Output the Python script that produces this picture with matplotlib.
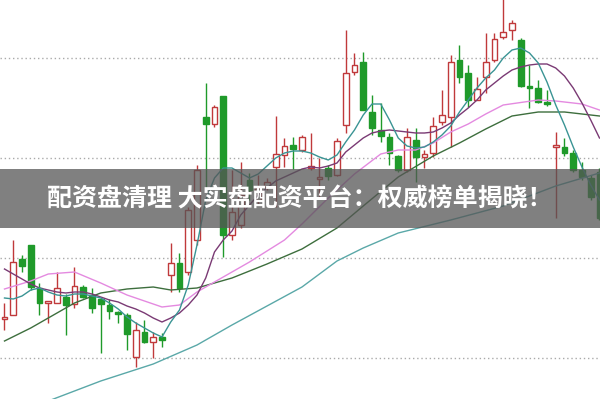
import numpy as np
import matplotlib
matplotlib.use("Agg")
import matplotlib.pyplot as plt
from matplotlib.patches import Rectangle

plt.rcParams['font.family'] = ['Noto Sans CJK SC', 'DejaVu Sans']

# candle data
opens = [10.39, 10.43, 10.99, 11.13, 10.70, 10.55, 10.55, 10.61, 10.54, 10.71,
         10.63, 10.59, 10.53, 10.46, 10.43, 10.01, 10.26, 10.16, 10.21, 10.83,
         10.95, 10.86, 11.18, 12.41, 12.34, 12.62, 11.23, 11.33, 11.78, 11.58,
         11.71, 11.91, 12.03, 12.13, 12.08, 11.90, 11.79, 11.90, 11.83, 12.33,
         12.86, 12.96, 12.46, 12.28, 12.21, 12.02, 11.88, 12.18, 12.01, 12.05,
         12.36, 12.41, 12.98, 12.85, 12.58, 12.81, 12.98, 13.21, 13.28, 13.18,
         12.71, 12.70, 12.55, 12.11, 12.11, 12.05, 11.88, 11.80, 11.86]
highs = [10.55, 11.18, 11.03, 11.13, 10.75, 10.56, 10.86, 10.64, 10.91, 10.73,
         10.70, 10.60, 10.59, 10.47, 10.45, 10.36, 10.38, 10.26, 10.25, 11.15,
         11.05, 11.51, 11.93, 12.75, 12.53, 12.62, 11.88, 11.96, 11.85, 11.83,
         11.80, 12.42, 12.20, 12.21, 12.23, 12.25, 12.00, 11.93, 12.20, 13.28,
         13.05, 13.06, 12.63, 12.55, 12.25, 12.03, 12.30, 12.30, 12.08, 12.41,
         12.68, 13.03, 13.13, 12.93, 12.81, 13.25, 13.25, 13.60, 13.38, 13.20,
         12.93, 12.78, 12.68, 12.26, 12.20, 12.08, 11.96, 11.83, 11.90]
lows = [10.28, 10.43, 10.86, 10.68, 10.43, 10.35, 10.55, 10.23, 10.50, 10.60,
        10.45, 10.05, 10.39, 10.35, 10.08, 9.91, 10.15, 10.00, 10.11, 10.66,
        10.66, 10.83, 11.13, 11.70, 12.31, 11.01, 11.18, 11.30, 11.58, 11.53,
        11.68, 11.51, 11.91, 11.89, 12.06, 11.88, 11.60, 11.78, 11.82, 12.25,
        12.83, 12.48, 12.23, 12.16, 11.93, 11.86, 11.86, 11.76, 11.90, 12.01,
        12.33, 12.11, 12.75, 12.51, 12.58, 12.65, 12.96, 13.19, 13.18, 12.71,
        12.50, 12.55, 12.52, 11.40, 12.02, 11.86, 11.78, 11.58, 11.38]
closes = [10.41, 10.96, 10.92, 10.71, 10.55, 10.56, 10.70, 10.53, 10.72, 10.61,
          10.50, 10.54, 10.47, 10.44, 10.24, 10.28, 10.16, 10.21, 10.18, 10.95,
          10.70, 11.48, 11.88, 12.34, 12.51, 11.23, 11.46, 11.63, 11.68, 11.70,
          11.76, 12.04, 12.12, 12.09, 12.21, 11.91, 11.80, 11.82, 12.17, 12.85,
          12.93, 12.48, 12.30, 12.22, 12.05, 11.88, 12.21, 12.01, 12.04, 12.32,
          12.43, 12.96, 12.81, 12.58, 12.69, 12.96, 13.19, 13.26, 13.35, 12.72,
          12.70, 12.56, 12.54, 12.12, 12.05, 11.88, 11.81, 11.61, 11.40]

# moving average lines
ma5 = [10.60, 10.59, 10.62, 10.68, 10.70, 10.66, 10.63, 10.62, 10.64, 10.64,
       10.62, 10.60, 10.55, 10.49, 10.41, 10.35, 10.30, 10.25, 10.21, 10.36,
       10.48, 10.73, 11.13, 11.58, 11.80, 11.90, 11.90, 11.85, 11.80, 11.84,
       11.92, 12.00, 12.05, 12.07, 12.07, 12.05, 12.01, 11.98, 12.03, 12.16,
       12.28, 12.43, 12.54, 12.54, 12.38, 12.20, 12.12, 12.10, 12.11, 12.16,
       12.23, 12.32, 12.46, 12.58, 12.70, 12.80, 12.88, 13.00, 13.08, 13.10,
       13.05, 12.95, 12.76, 12.53, 12.33, 12.11, 11.91, 11.73, 11.58]
ma10 = [10.89, 10.84, 10.79, 10.74, 10.70, 10.68, 10.66, 10.65, 10.66, 10.66,
        10.64, 10.61, 10.58, 10.56, 10.52, 10.49, 10.45, 10.40, 10.36, 10.40,
        10.45, 10.53, 10.63, 10.80, 11.06, 11.18, 11.27, 11.43, 11.53, 11.63,
        11.70, 11.77, 11.81, 11.85, 11.89, 11.91, 11.90, 11.92, 11.95, 12.06,
        12.13, 12.20, 12.25, 12.27, 12.28, 12.27, 12.26, 12.25, 12.25, 12.26,
        12.30, 12.35, 12.43, 12.50, 12.58, 12.68, 12.75, 12.82, 12.88, 12.91,
        12.93, 12.94, 12.94, 12.90, 12.82, 12.70, 12.55, 12.38, 12.20]
ma20_idx = [0, 3, 5, 8, 11, 14, 18, 20, 22, 25, 28, 32, 34, 37, 40, 43, 45, 47,
            49, 51, 53, 55, 57, 61, 63, 66, 68]
ma20 = [10.69, 10.77, 10.84, 10.86, 10.75, 10.63, 10.51, 10.53, 10.66, 10.81,
        10.96, 11.18, 11.34, 11.60, 11.84, 12.04, 12.08, 12.08, 12.15, 12.26,
        12.34, 12.44, 12.53, 12.58, 12.57, 12.54, 12.48]
ma60_idx = [0, 3, 5, 8, 11, 14, 17, 19, 22, 26, 30, 34, 38, 41, 45, 49, 52, 55,
            58, 61, 64, 68]
ma60 = [10.17, 10.30, 10.40, 10.55, 10.65, 10.69, 10.71, 10.68, 10.70, 10.80,
        10.94, 11.09, 11.30, 11.52, 11.81, 12.02, 12.15, 12.29, 12.42, 12.46,
        12.46, 12.42]
ma120_idx = [5, 11, 17, 22, 26, 30, 34, 38, 41, 45, 51, 57, 63, 68]
ma120 = [9.57, 9.77, 9.94, 10.13, 10.33, 10.52, 10.71, 10.97, 11.10, 11.25,
         11.38, 11.52, 11.72, 11.85]

grid_levels = [10.0, 11.0, 12.0, 13.0]
title = "配资盘清理 大实盘配资平台：权威榜单揭晓！"

fig = plt.figure(figsize=(6, 3.99), dpi=100)
ax = fig.add_axes([0, 0, 1, 1])
ax.set_xlim(-0.514, 68.06)
ax.set_ylim(9.59, 13.58)
ax.axis("off")

for lvl in grid_levels:
    ax.axhline(lvl, color="#aaaaaa", lw=1, ls=(0, (1, 2)), zorder=0)

red = "#c0393b"
green = "#1f9a2a"
w = 0.66
x = np.arange(len(opens))
for i in x:
    o, h, l, c = opens[i], highs[i], lows[i], closes[i]
    up = c >= o
    col = red if up else green
    ax.vlines(i, l, h, color=col, lw=1, zorder=2)
    bottom = min(o, c)
    height = max(abs(c - o), 0.02)
    ax.bar(i, height, bottom=bottom, width=w,
           facecolor="white" if up else col, edgecolor=col, lw=1, zorder=3)

ax.plot(ma120_idx, ma120, color="#5aa8a8", lw=1, zorder=4)
ax.plot(ma60_idx, ma60, color="#3d6e3d", lw=1, zorder=4)
ax.plot(ma20_idx, ma20, color="#e48ae0", lw=1, zorder=4)
ax.plot(x, ma10, color="#7a3a74", lw=1, zorder=4)
ax.plot(x, ma5, color="#3a9494", lw=1, zorder=4)

# grey banner with title
fig.patches.append(Rectangle((0, 1 - 228 / 399), 1, 59 / 399,
                             transform=fig.transFigure, facecolor="#555555",
                             alpha=0.75, zorder=5))
fig.text(0.5, 1 - 199 / 399, title, color="white", fontsize=18,
         fontweight="bold", ha="center", va="center", zorder=6)

fig.savefig("out.png", dpi=100)
